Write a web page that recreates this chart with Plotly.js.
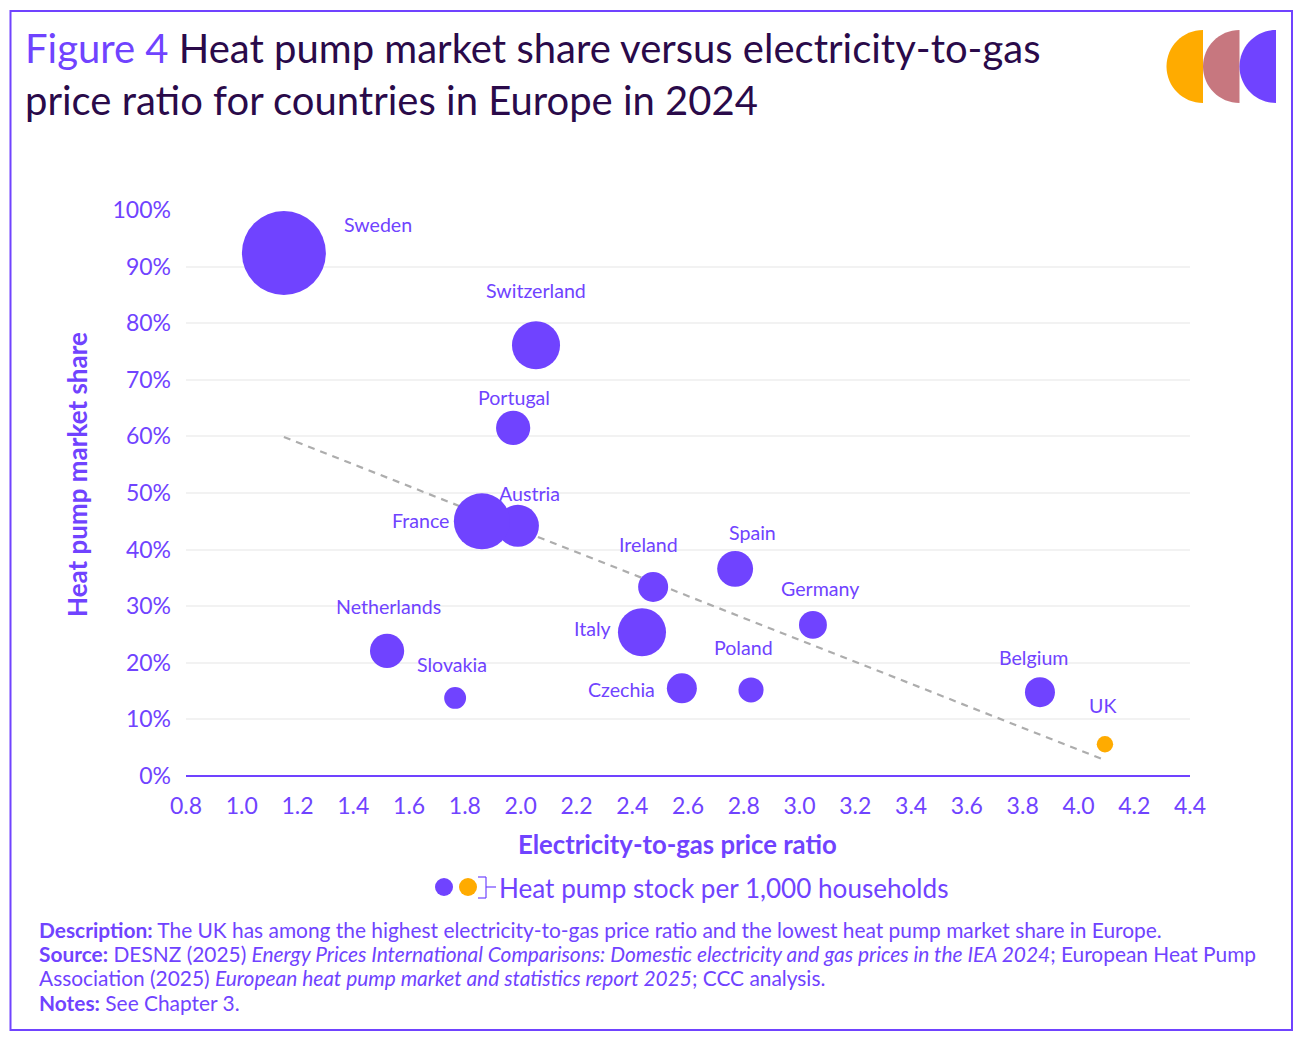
<!DOCTYPE html>
<html><head><meta charset="utf-8">
<script src="https://cdn.plot.ly/plotly-3.0.1.min.js"></script>
<style>html,body{margin:0;padding:0;background:#fff}#c{width:1306px;height:1046px}</style>
</head><body><div id="c"></div>
<script>
const countries=["Sweden","Switzerland","Portugal","Austria","France","Ireland","Spain","Germany","Italy","Netherlands","Slovakia","Czechia","Poland","Belgium","UK"];
const priceRatio=[1.151,2.055,1.973,1.99,1.861,2.475,2.769,3.048,2.435,1.521,1.765,2.578,2.826,3.862,4.095];
const marketShare=[92.4,76.1,61.5,44.2,45,33.4,36.6,26.7,25.4,22.1,13.8,15.5,15.2,14.8,5.6];
const stockPer1000=[235,77,39,59,105,30,43,26,77,39,16,30,21,30,9];
const trendX=[1.151,4.095];
const trendY=[59.9,2.8];
const labelDx=[94,0,1,12,-61,-5,17,7,-49,1,-3,-60,-8,-6,-2];
const labelDy=[-29,-55,-30,-32,-1,-42,-36,-36,-4,-44,-33,1,-42,-35,-39];

const PURPLE="#7043FF",DARK="#2A0A4A",ORANGE="#FFAB00",PINK="#C7777F";
const FONT="Lato, 'Open Sans', sans-serif";
const L=186,R=1190,T=210,B=776;
const px=x=>(x-L)/(R-L), py=y=>(B-y)/(B-T);
const halfDisc=(cx,cy,r,color)=>{
  const k=0.5523*r;
  return {type:"path",xref:"paper",yref:"paper",fillcolor:color,line:{width:0},
    path:`M ${px(cx)} ${py(cy-r)} C ${px(cx-k)} ${py(cy-r)} ${px(cx-r)} ${py(cy-k)} ${px(cx-r)} ${py(cy)} C ${px(cx-r)} ${py(cy+k)} ${px(cx-k)} ${py(cy+r)} ${px(cx)} ${py(cy+r)} Z`};
};
const pxRect=(x0,y0,x1,y1,st)=>Object.assign({xref:"paper",yref:"paper",x0:px(x0),x1:px(x1),y0:py(y0),y1:py(y1)},st);
const pxLine=(x0,y0,x1,y1)=>pxRect(x0,y0,x1,y1,{type:"line",line:{color:PURPLE,width:1.2}});
const textAt=(x,y,text,size,extra)=>Object.assign({xref:"paper",yref:"paper",x:px(x),y:py(y),text,showarrow:false,xanchor:"left",yanchor:"middle",
  font:{family:FONT,size,color:PURPLE}},extra||{});

const labelAnn=countries.map((c,i)=>({x:priceRatio[i],y:marketShare[i],xref:"x",yref:"y",text:c,showarrow:false,
  xshift:labelDx[i],yshift:-labelDy[i],xanchor:"center",yanchor:"middle",font:{family:FONT,size:19.6,color:PURPLE}}));

const footer=[
 ["<b>Description:</b> The UK has among the highest electricity-to-gas price ratio and the lowest heat pump market share in Europe.",929],
 ["<b>Source:</b> DESNZ (2025) <i>Energy Prices International Comparisons: Domestic electricity and gas prices in the IEA 2024</i>; European Heat Pump",953],
 ["Association (2025) <i>European heat pump market and statistics report 2025</i>; CCC analysis.",977],
 ["<b>Notes:</b> See Chapter 3.",1002]
].map(([t,y])=>textAt(37,y,t,20.9));

const traces=[
 {type:"scatter",mode:"lines",x:trendX,y:trendY,line:{color:"#ADADAD",width:2.2,dash:"7px,6px"},hoverinfo:"skip",showlegend:false},
 {type:"scatter",mode:"markers",cliponaxis:false,x:priceRatio,y:marketShare,text:countries,showlegend:false,
  marker:{size:stockPer1000,sizemode:"area",sizeref:1/15,sizemin:0,line:{width:0},
    color:countries.map(c=>c==="UK"?ORANGE:PURPLE),opacity:1}}
];
const layout={
 width:1306,height:1046,autosize:false,showlegend:false,paper_bgcolor:"#fff",plot_bgcolor:"#fff",
 margin:{l:L,r:1306-R,t:T,b:1046-B,pad:0},
 font:{family:FONT,color:PURPLE},
 title:{text:`<span style="color:${PURPLE}">Figure 4</span> Heat pump market share versus electricity-to-gas<br>price ratio for countries in Europe in 2024`,
   xref:"container",yref:"container",x:25/1306,xanchor:"left",y:1-63/1046,yanchor:"top",
   font:{family:FONT,size:40,color:DARK}},
 xaxis:{range:[0.8,4.4],dtick:0.2,tick0:0.8,tickformat:".1f",showgrid:false,zeroline:false,showline:false,ticks:"",
   ticklabelstandoff:14,tickfont:{family:FONT,size:23,color:PURPLE}},
 yaxis:{range:[0,100],dtick:10,ticksuffix:"%",showgrid:true,gridcolor:"#F2F2F2",gridwidth:2,zeroline:true,zerolinecolor:PURPLE,zerolinewidth:2,showline:false,ticks:"",
   ticklabelstandoff:14,ticklabelshift:-1.5,tickfont:{family:FONT,size:23,color:PURPLE}},
 shapes:[
  pxRect(10.5,11,1292,1030,{type:"rect",line:{color:PURPLE,width:2},fillcolor:"rgba(0,0,0,0)"}),
  halfDisc(1203,66.5,36.5,ORANGE),halfDisc(1239.5,66.5,36.5,PINK),halfDisc(1276,66.5,36.5,PURPLE),
  pxRect(435,878,453,896,{type:"circle",fillcolor:PURPLE,line:{width:0}}),
  pxRect(459,878,477,896,{type:"circle",fillcolor:ORANGE,line:{width:0}}),
  pxLine(478,877,486,877),pxLine(486,877,486,898),pxLine(478,898,486,898),pxLine(486,887,496,887)
 ],
 annotations:[...labelAnn,
  textAt(677.5,844,"<b>Electricity-to-gas price ratio</b>",25.7,{xanchor:"center"}),
  textAt(77,475,"<b>Heat pump market share</b>",26,{xanchor:"center",textangle:-90}),
  textAt(497,888,"Heat pump stock per 1,000 households",26.1),...footer]
};
Plotly.newPlot("c",traces,layout,{displayModeBar:false,responsive:false});
</script></body></html>
